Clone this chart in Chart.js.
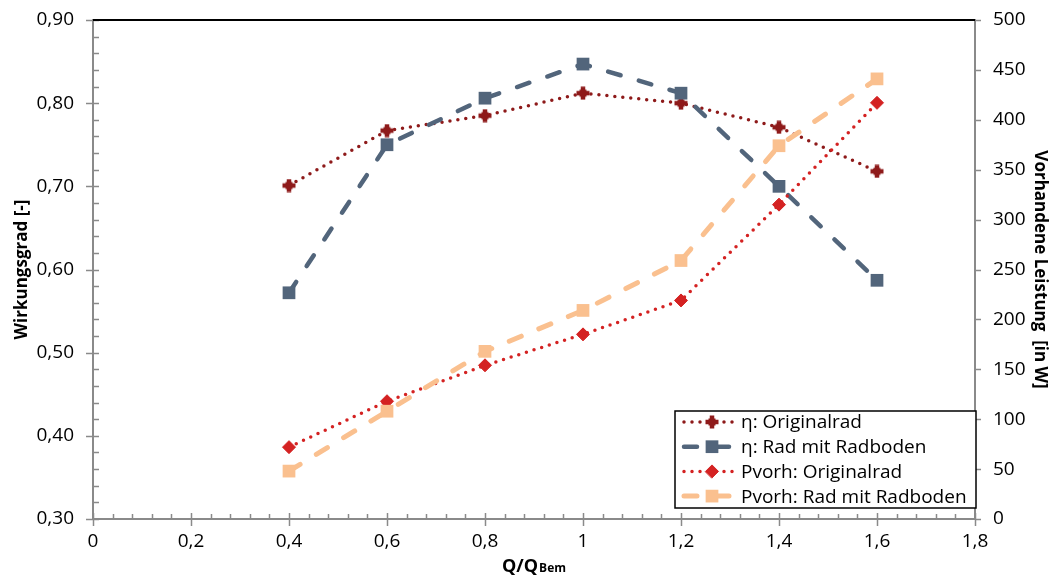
<!DOCTYPE html>
<html><head><meta charset="utf-8">
<script src="https://cdn.jsdelivr.net/npm/chart.js@4.4.1/dist/chart.umd.min.js"></script>
<style>html,body{margin:0;padding:0;background:#fff}#wrap{width:1056px;height:579px;position:relative}</style>
</head><body><div id="wrap"><canvas id="c" width="1056" height="579"></canvas></div>
<script>
// ---- data ----
const xValues = [0.4, 0.6, 0.8, 1.0, 1.2, 1.4, 1.6];
const etaOriginal = [0.701, 0.767, 0.785, 0.812, 0.800, 0.771, 0.718];
const etaRadboden = [0.572, 0.750, 0.806, 0.847, 0.812, 0.700, 0.587];
const powerOriginal = [72, 118, 154, 185, 219, 315, 417];
const powerRadboden = [48, 108, 168, 209, 259, 374, 441];
const seriesNames = ['η: Originalrad', 'η: Rad mit Radboden', 'Pvorh: Originalrad', 'Pvorh: Rad mit Radboden'];
const xTitleMain = 'Q/Q';
const xTitleSub = 'Bem';
const yTitleLeft = 'Wirkungsgrad [-]';
const yTitleRight = 'Vorhandene Leistung  [in W]';

const AXIS = '#8a8a8a';
const FONT = '"Open Sans", sans-serif';
Chart.defaults.font.family = FONT;
Chart.defaults.color = '#000';

// custom cross marker
function makeCross(color) {
  const c = document.createElement('canvas');
  c.width = 14; c.height = 14;
  const g = c.getContext('2d');
  g.fillStyle = color;
  g.fillRect(4.75, 0.5, 4.5, 13);
  g.fillRect(0.5, 4.75, 13, 4.5);
  g.fillRect(3.5, 3.5, 7, 7);
  return c;
}
const crossMarker = makeCross('#8e1a1a');

const pts = (ys) => xValues.map((x, i) => ({x: x, y: ys[i]}));

const datasets = [
  {label: seriesNames[0], data: pts(etaOriginal), yAxisID: 'y',
   borderColor: '#8e1a1a', borderWidth: 3.5, borderDash: [0, 8], borderCapStyle: 'round',
   pointStyle: crossMarker, pointRadius: 7, pointBackgroundColor: '#8e1a1a', pointBorderColor: '#8e1a1a', pointBorderWidth: 0},
  {label: seriesNames[1], data: pts(etaRadboden), yAxisID: 'y',
   borderColor: '#52657b', borderWidth: 4.5, borderDash: [13, 19], borderCapStyle: 'round',
   pointStyle: 'rect', pointRadius: 9, pointBackgroundColor: '#52657b', pointBorderColor: '#52657b', pointBorderWidth: 0},
  {label: seriesNames[2], data: pts(powerOriginal), yAxisID: 'y1',
   borderColor: '#d42222', borderWidth: 3.5, borderDash: [0, 8], borderCapStyle: 'round',
   pointStyle: 'rectRot', pointRadius: 6.5, pointBackgroundColor: '#d42222', pointBorderColor: '#d42222', pointBorderWidth: 1},
  {label: seriesNames[3], data: pts(powerRadboden), yAxisID: 'y1',
   borderColor: '#fac08f', borderWidth: 5, borderDash: [13, 19], borderCapStyle: 'round',
   pointStyle: 'rect', pointRadius: 9, pointBackgroundColor: '#fac08f', pointBorderColor: '#fac08f', pointBorderWidth: 0}
];
datasets.forEach((d, i) => { d.order = 3 - i; d.tension = 0; d.fill = false; d.pointHoverRadius = d.pointRadius; });

function seg(ctx, x1, y1, x2, y2) { ctx.beginPath(); ctx.moveTo(x1, y1); ctx.lineTo(x2, y2); ctx.stroke(); }

const decor = {
  id: 'decor',
  beforeDatasetsDraw(chart) {
    const {ctx, chartArea: a, scales} = chart;
    const sx = scales.x, sy = scales.y, sy1 = scales.y1;
    ctx.save();
    ctx.strokeStyle = AXIS; ctx.lineWidth = 1.5;
    for (let i = 0; i <= 45; i++) {
      const px = Math.round(sx.getPixelForValue(i * 0.04)) + 0.5;
      if (i % 5 === 0) seg(ctx, px, a.bottom - 6, px, a.bottom + 7);
      else seg(ctx, px, a.bottom - 5, px, a.bottom);
    }
    for (let i = 0; i <= 30; i++) {
      const py = Math.round(sy.getPixelForValue(0.3 + i * 0.02)) + 0.5;
      if (i % 5 === 0) seg(ctx, a.left - 7, py, a.left + 6, py);
      else seg(ctx, a.left, py, a.left + 6, py);
    }
    for (let v = 0; v <= 500; v += 50) {
      const py = Math.round(sy1.getPixelForValue(v)) + 0.5;
      seg(ctx, a.right, py, a.right + 6, py);
    }
    ctx.strokeStyle = '#000'; ctx.lineWidth = 2;
    seg(ctx, a.left, a.top, a.right, a.top);
    ctx.restore();
  },
  afterDraw(chart) {
    const {ctx, chartArea: a} = chart;
    ctx.save();
    ctx.fillStyle = '#000';
    ctx.textBaseline = 'alphabetic';
    ctx.font = 'bold 18px ' + FONT;
    const w1 = ctx.measureText(xTitleMain).width;
    ctx.font = 'bold 12px ' + FONT;
    const w2 = ctx.measureText(xTitleSub).width;
    const cx = (a.left + a.right) / 2 - 0.5;
    const x0 = cx - (w1 + w2) / 2;
    ctx.font = 'bold 18px ' + FONT;
    ctx.fillText(xTitleMain, x0, 572);
    ctx.font = 'bold 12px ' + FONT;
    ctx.fillText(xTitleSub, x0 + w1 + 1, 572);

    const lw = 301, lh = 97;
    const lx = a.right + 1 - lw, ly = a.bottom - 11 - lh;
    ctx.fillStyle = '#fff';
    ctx.fillRect(lx, ly, lw, lh);
    ctx.strokeStyle = '#000'; ctx.lineWidth = 1.5;
    ctx.strokeRect(lx, ly, lw, lh);
    chart.data.datasets.forEach((d, i) => {
      const ry = ly + 11 + i * 24.7;
      ctx.save();
      ctx.setLineDash(d.borderDash);
      ctx.lineCap = 'round';
      ctx.strokeStyle = d.borderColor; ctx.lineWidth = d.borderWidth;
      seg(ctx, lx + 9, ry, lx + 61, ry);
      ctx.setLineDash([]);
      ctx.fillStyle = d.pointBackgroundColor; ctx.strokeStyle = d.pointBorderColor; ctx.lineWidth = d.pointBorderWidth;
      Chart.helpers.drawPoint(ctx, {pointStyle: d.pointStyle, radius: d.pointRadius, rotation: 0, borderWidth: d.pointBorderWidth}, lx + 37, ry);
      ctx.restore();
      ctx.fillStyle = '#000';
      ctx.font = '19px ' + FONT;
      ctx.textBaseline = 'middle';
      ctx.fillText(d.label, lx + 66, ry + 1);
    });
    ctx.restore();
  }
};

const fmtX = (v) => String(Number(Number(v).toFixed(1))).replace('.', ',');
const fitY = (w) => (s) => { s.width = w; s.paddingTop = 0; s.paddingBottom = 0; };

new Chart(document.getElementById('c'), {
  type: 'line',
  data: {datasets: datasets},
  options: {
    responsive: false,
    animation: false,
    devicePixelRatio: 1,
    layout: {padding: {top: 20, left: 0, right: 0, bottom: 0}},
    plugins: {legend: {display: false}, tooltip: {enabled: false}},
    scales: {
      x: {type: 'linear', min: 0, max: 1.8,
          ticks: {stepSize: 0.2, padding: 11, color: '#000', font: {size: 19}, callback: fmtX, maxRotation: 0},
          grid: {display: false, drawTicks: false},
          border: {display: true, color: AXIS, width: 2},
          afterFit: (s) => { s.height = 60; s.paddingLeft = 0; s.paddingRight = 0; }},
      y: {position: 'left', min: 0.3, max: 0.9,
          ticks: {stepSize: 0.1, padding: 19, color: '#000', font: {size: 19}, callback: (v) => Number(v).toFixed(2).replace('.', ',')},
          grid: {display: false, drawTicks: false},
          border: {display: true, color: AXIS, width: 2},
          title: {display: true, text: yTitleLeft, color: '#000', font: {size: 17, weight: 'bold'}, padding: {top: 12, bottom: 0}},
          afterFit: fitY(93)},
      y1: {position: 'right', min: 0, max: 500,
          ticks: {stepSize: 50, padding: 18, color: '#000', font: {size: 19}},
          grid: {display: false, drawTicks: false},
          border: {display: true, color: AXIS, width: 2},
          title: {display: true, text: yTitleRight, color: '#000', font: {size: 17, weight: 'bold'}, padding: {top: 6, bottom: 0}},
          afterFit: fitY(81)}
    }
  },
  plugins: [decor]
});
</script>
</body></html>
